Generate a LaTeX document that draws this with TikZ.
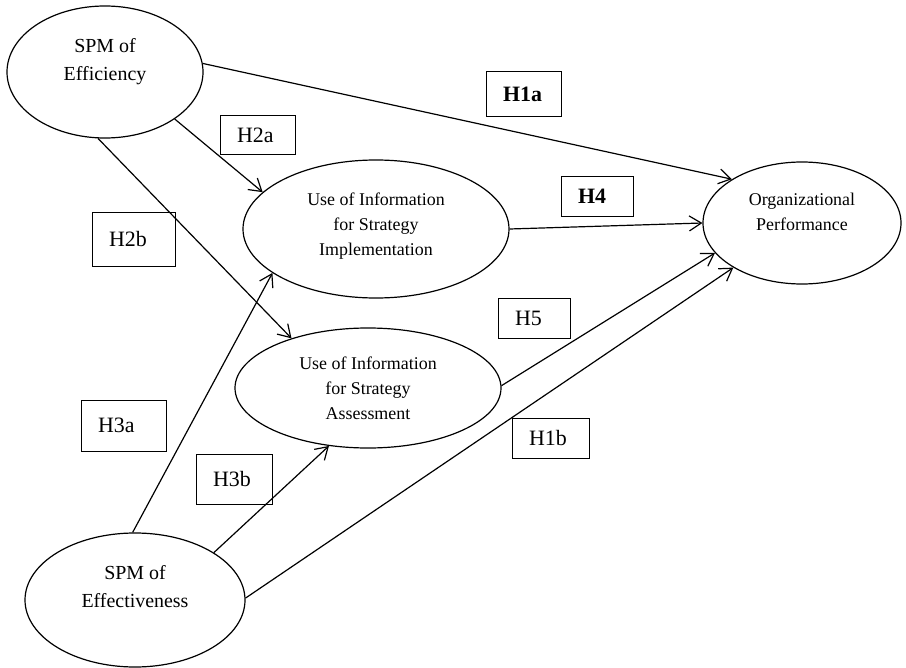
\documentclass[tikz,border=0pt]{standalone}
\usepackage{fontspec}
\setmainfont{Liberation Serif}
\usetikzlibrary{shapes.geometric,arrows.meta}
\begin{document}
\begin{tikzpicture}[x=1bp,y=-1bp,
  lat/.style={ellipse, draw, line width=1.2bp, inner sep=0pt},
  lbl/.style={font=\fontsize{18}{25}\selectfont, align=center, inner sep=0pt},
  spm/.style={font=\fontsize{20}{28}\selectfont, align=center, inner sep=0pt},
  hyp/.style={draw, rectangle, line width=1bp, inner xsep=17bp, inner ysep=0pt, align=left, font=\fontsize{22}{26}\selectfont},
  conn/.style={line width=1.2bp, -{Straight Barb[length=12bp,width=15bp,line width=1.2bp]}},
]
\useasboundingbox (0,0) rectangle (906,668);

% latent constructs
\node[lat, minimum width=196bp, minimum height=132bp,
  label={[spm, yshift=10bp]center:{SPM of\\Efficiency}}] (eff) at (105,72) {};
\node[lat, minimum width=266bp, minimum height=138bp,
  label={[lbl, yshift=3bp]center:{Use of Information\\for Strategy\\Implementation}}] (impl) at (376,229) {};
\node[lat, minimum width=266bp, minimum height=120bp,
  label={[lbl]center:{Use of Information\\for Strategy\\Assessment}}] (assess) at (368,388) {};
\node[lat, minimum width=198bp, minimum height=122bp,
  label={[lbl, yshift=11bp]center:{Organizational\\Performance}}] (org) at (802,223) {};
\node[lat, minimum width=220bp, minimum height=134bp,
  label={[spm, yshift=13bp]center:{SPM of\\Effectiveness}}] (effect) at (135,600) {};

% hypothesis labels
\node[hyp, text width=41bp, minimum height=45bp, font=\fontsize{22}{26}\selectfont\bfseries] (h1a) at (523.5,94.5) {H1a};
\node[hyp, text width=41bp, minimum height=38bp] (h2a) at (257.5,135) {H2a};
\node[hyp, text width=38bp, minimum height=39bp, font=\fontsize{22}{26}\selectfont\bfseries] (h4) at (597,196.5) {H4};
\node[hyp, text width=49bp, minimum height=54bp] (h2b) at (133.5,239) {H2b};
\node[hyp, text width=38bp, minimum height=40bp] (h5) at (534,318) {H5};
\node[hyp, text width=51bp, minimum height=51bp] (h3a) at (123.5,425.5) {H3a};
\node[hyp, text width=43bp, minimum height=40bp] (h1b) at (550.5,438) {H1b};
\node[hyp, text width=42bp, minimum height=50bp] (h3b) at (234,479) {H3b};

% paths
\draw[conn] (eff.5) -- (org.148);
\draw[conn] (eff.-34) -- (impl.162);
\draw[conn] (eff.-96) -- (assess.147.5);
\draw[conn] (impl.0) -- (org.180);
\draw[conn] (assess.1) -- (org.199);
\draw[conn] (effect.1) -- (org.213);
\draw[conn] (effect.92) -- (impl.203);
\draw[conn] (effect.31) -- (assess.236);
\end{tikzpicture}
\end{document}
